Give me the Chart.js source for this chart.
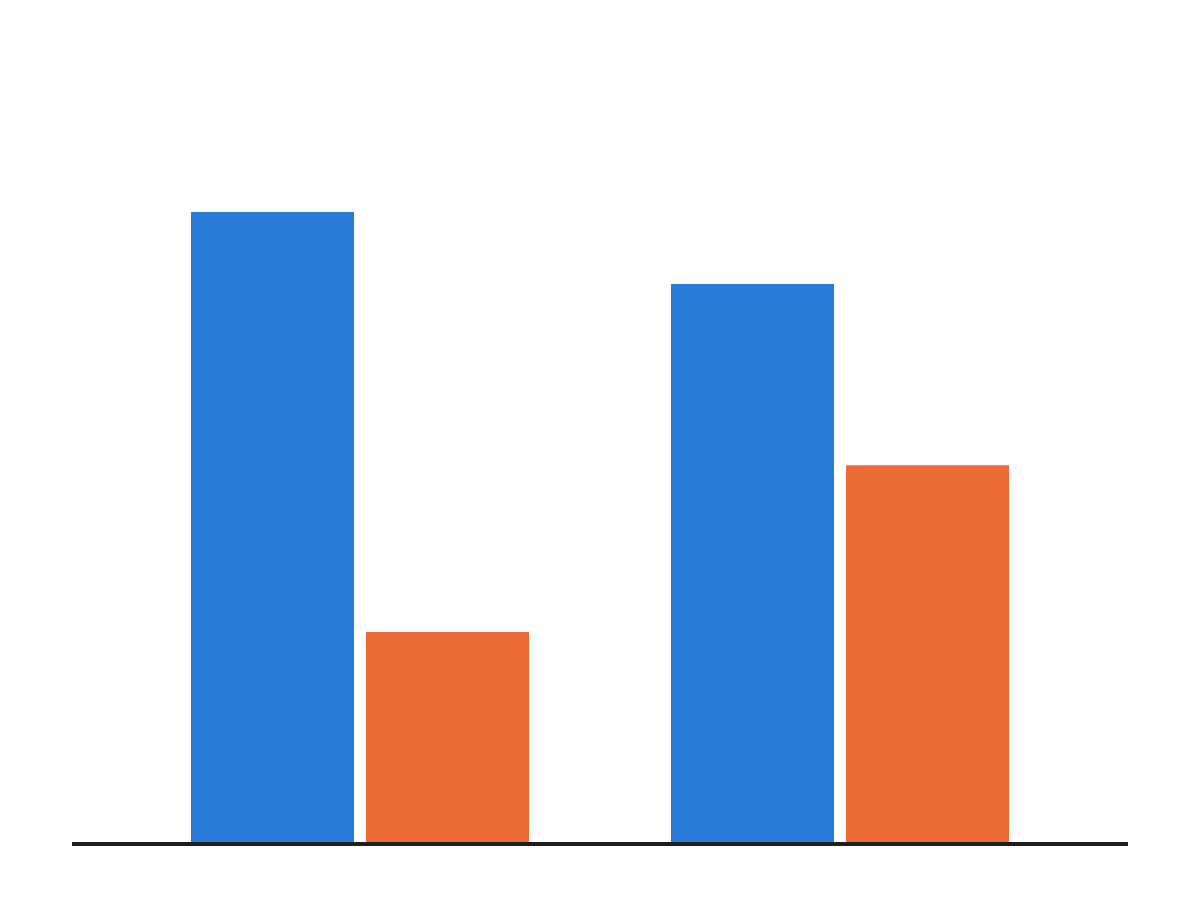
<!DOCTYPE html>
<html>
<head>
<meta charset="utf-8">
<script src="https://cdn.jsdelivr.net/npm/chart.js@4"></script>
<style>
    body { margin: 0; background: #ffffff; }
    #wrap { width: 1200px; height: 900px; }
</style>
</head>
<body>
<div id="wrap"><canvas id="barChart"></canvas></div>
<script>
// Chart data
const categories = [0, 1];
const seriesA = [78.75, 69.75];
const seriesB = [26.25, 47.1];

// Draw the black baseline at y = 0 across the plot area
const baselinePlugin = {
    id: 'baseline',
    afterDatasetsDraw(chart) {
        const { ctx, chartArea, scales } = chart;
        const lw = 4;
        const y = scales.y.getPixelForValue(0) + lw / 2;
        ctx.save();
        ctx.strokeStyle = '#1e1e1e';
        ctx.lineWidth = lw;
        ctx.beginPath();
        ctx.moveTo(chartArea.left, y);
        ctx.lineTo(chartArea.right, y);
        ctx.stroke();
        ctx.restore();
    }
};

const ctx = document.getElementById('barChart').getContext('2d');
window.barChart = new Chart(ctx, {
    type: 'bar',
    data: {
        datasets: [
            {
                label: 'A',
                data: categories.map((c, i) => ({ x: c, y: seriesA[i] })),
                backgroundColor: '#2979d6'
            },
            {
                label: 'B',
                data: categories.map((c, i) => ({ x: c, y: seriesB[i] })),
                backgroundColor: '#eb6a35'
            }
        ]
    },
    options: {
        responsive: true,
        maintainAspectRatio: false,
        animation: false,
        categoryPercentage: 0.7292,
        barPercentage: 0.9314,
        layout: {
            padding: { left: 72, right: 72, top: 42, bottom: 58 }
        },
        plugins: {
            legend: { display: false },
            tooltip: { enabled: false }
        },
        scales: {
            x: {
                type: 'linear',
                min: -0.6,
                max: 1.6,
                offset: false,
                display: false,
                // only one tick per category so bar width follows category spacing
                afterBuildTicks: (axis) => {
                    axis.ticks = categories.map(v => ({ value: v }));
                }
            },
            y: {
                min: 0,
                max: 100,
                display: false
            }
        }
    },
    plugins: [baselinePlugin]
});
</script>
</body>
</html>
